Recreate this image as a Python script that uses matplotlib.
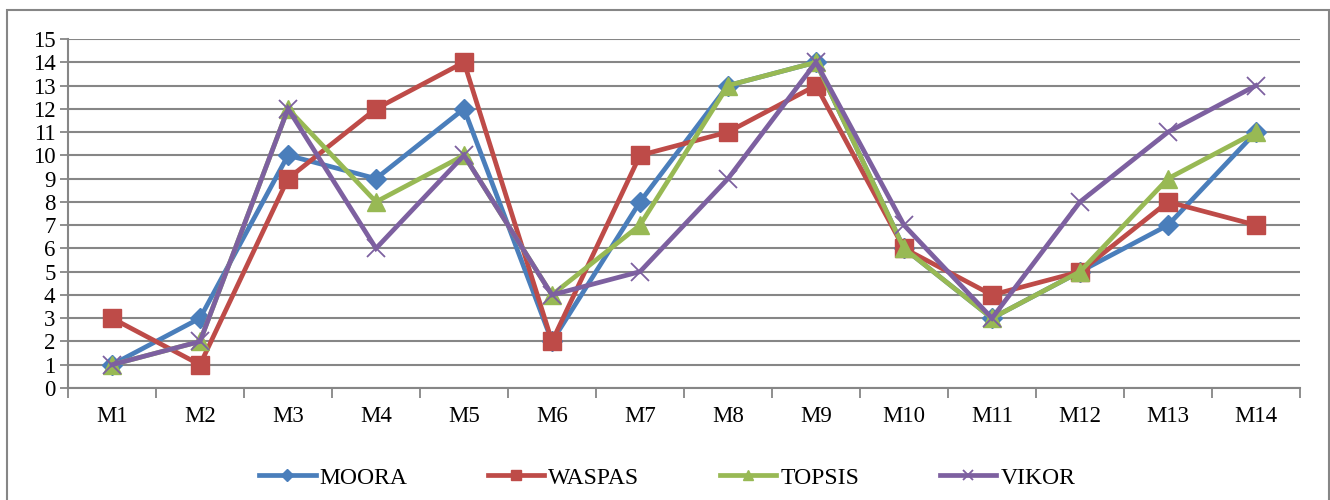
import matplotlib.pyplot as plt
from matplotlib.patches import Rectangle

# Datos del grafico
categorias = ['M1', 'M2', 'M3', 'M4', 'M5', 'M6', 'M7', 'M8', 'M9', 'M10', 'M11', 'M12', 'M13', 'M14']
moora = [1, 3, 10, 9, 12, 2, 8, 13, 14, 6, 3, 5, 7, 11]
waspas = [3, 1, 9, 12, 14, 2, 10, 11, 13, 6, 4, 5, 8, 7]
topsis = [1, 2, 12, 8, 10, 4, 7, 13, 14, 6, 3, 5, 9, 11]
vikor = [1, 2, 12, 6, 10, 4, 5, 9, 14, 7, 3, 8, 11, 13]

plt.rcParams['font.family'] = ['Liberation Serif', 'DejaVu Serif']

fig = plt.figure(figsize=(13.3, 5.0), dpi=100)
ax = fig.add_axes([68 / 1330, 1 - 388 / 500, (1300 - 68) / 1330, (388 - 39) / 500])

# Marco exterior
fig.patches.append(Rectangle((7 / 1330, -0.05), (1329 - 7) / 1330, 1.05 - 10 / 500,
                             transform=fig.transFigure, fill=False,
                             edgecolor='#868686', linewidth=1.5))

x = range(len(categorias))
series = [
    ('MOORA', moora, '#4A7EBB', 'D', 10.5, None),
    ('WASPAS', waspas, '#BE4B48', 's', 13, None),
    ('TOPSIS', topsis, '#98B954', '^', 13, None),
    ('VIKOR', vikor, '#7D60A0', 'x', 13, 1.3),
]
for nombre, vals, color, mk, ms, mew in series:
    kw = {}
    if mew is not None:
        kw['markeredgewidth'] = mew
    ax.plot(x, vals, color=color, linewidth=3.4, marker=mk, markersize=ms,
            markerfacecolor=color, markeredgecolor=color, label=nombre,
            solid_joinstyle='miter', clip_on=False, **kw)

ax.set_xlim(-0.5, len(categorias) - 0.5)
ax.set_ylim(0, 15)
ax.set_yticks(range(0, 16))
ax.yaxis.grid(True, color='#868686', linewidth=1.5)
ax.set_axisbelow(True)

ax.set_xticks([i - 0.5 for i in range(len(categorias) + 1)])
ax.set_xticklabels([])
ax.set_xticks(list(x), minor=True)
ax.set_xticklabels(categorias, minor=True)
ax.tick_params(axis='x', which='major', length=7, width=1.3, color='#868686', direction='out')
ax.tick_params(axis='x', which='minor', length=0, labelsize=16.5, pad=13)
ax.tick_params(axis='y', length=6, width=1.3, color='#868686', labelsize=16.5, pad=3)

for lado in ['top', 'right']:
    ax.spines[lado].set_visible(False)
for lado in ['left', 'bottom']:
    ax.spines[lado].set_color('#868686')
    ax.spines[lado].set_linewidth(1.5)

fig.legend(loc='center', bbox_to_anchor=(0.5 + 2 / 1330, 1 - 478 / 500), ncol=4, frameon=False,
           fontsize=17, handlelength=2.4, columnspacing=3.4, handletextpad=0.17,
           markerscale=0.6)

fig.savefig('out.png', dpi=100)
